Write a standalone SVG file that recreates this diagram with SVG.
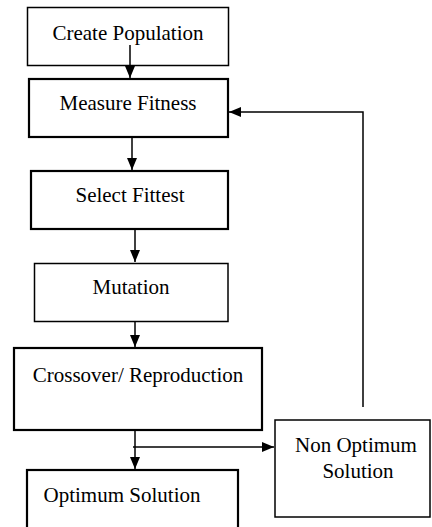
<svg xmlns="http://www.w3.org/2000/svg" width="432" height="527" viewBox="0 0 432 527">
<defs>
<marker id="ah" markerWidth="12" markerHeight="10" refX="12" refY="5" orient="auto" markerUnits="userSpaceOnUse">
<path d="M0,0 L12,5 L0,10 Z" fill="#000"/>
</marker>
<style>
.box{fill:#fff;stroke:#000;stroke-width:1.5}
.thick{stroke-width:2.2}
.lbl{font-family:'Times New Roman',Times,'Liberation Serif','DejaVu Serif',serif;font-size:21px;fill:#000;text-anchor:middle}
.con{fill:none;stroke:#000;stroke-width:1.5}
</style>
</defs>
<rect width="432" height="527" fill="#fff"/>
<g id="create">
<rect class="box" x="27.5" y="7.5" width="201" height="58"/>
<text class="lbl" x="128" y="40">Create Population</text>
</g>
<g id="measure">
<rect class="box thick" x="29" y="79" width="199" height="58"/>
<text class="lbl" x="128" y="110">Measure Fitness</text>
</g>
<g id="select">
<rect class="box thick" x="31" y="171" width="197" height="58"/>
<text class="lbl" x="130" y="202">Select Fittest</text>
</g>
<g id="mutation">
<rect class="box" x="34.5" y="263.5" width="193.5" height="58"/>
<text class="lbl" x="131" y="294">Mutation</text>
</g>
<g id="crossover">
<rect class="box thick" x="14" y="348" width="248" height="82"/>
<text class="lbl" x="138" y="382">Crossover/ Reproduction</text>
</g>
<g id="optimum">
<rect class="box thick" x="27" y="470" width="211" height="70"/>
<text class="lbl" x="122" y="502">Optimum Solution</text>
</g>
<g id="nonoptimum">
<rect class="box" x="275" y="420" width="155" height="97"/>
<text class="lbl" x="356" y="452">Non Optimum</text>
<text class="lbl" x="358" y="478">Solution</text>
</g>
<g id="connectors">
<line class="con" x1="130" y1="45" x2="130" y2="78" marker-end="url(#ah)"/>
<line class="con" x1="132" y1="137" x2="132" y2="170" marker-end="url(#ah)"/>
<line class="con" x1="135" y1="229" x2="135" y2="262" marker-end="url(#ah)"/>
<line class="con" x1="135" y1="322" x2="135" y2="347" marker-end="url(#ah)"/>
<line class="con" x1="135" y1="429" x2="135" y2="469" marker-end="url(#ah)"/>
<line class="con" x1="133" y1="447" x2="274" y2="447" marker-end="url(#ah)"/>
<polyline class="con" points="363,407 363,112 229,112" marker-end="url(#ah)"/>
</g>
</svg>
